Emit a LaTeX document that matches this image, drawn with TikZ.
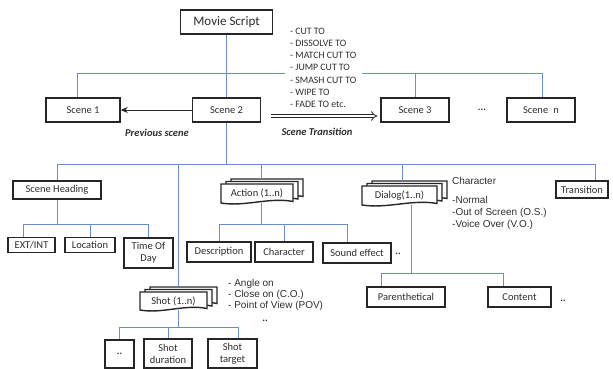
\documentclass[tikz,border=0pt]{standalone}
\usepackage{fontspec}
\setmainfont{Carlito}
\newfontfamily\arialf{Liberation Sans}
\usetikzlibrary{arrows.meta}
\definecolor{lineblue}{RGB}{105,142,200}
\definecolor{txt}{RGB}{45,45,45}
\newcommand\DocStack[6]{%
  \foreach \k in {2,1,0}{%
    \pgfmathsetmacro\ox{5*\k}\pgfmathsetmacro\oy{-2.5*\k}%
    \draw[docbox] ({#2+\ox},{#3+\oy}) -- ({#4+\ox},{#3+\oy}) -- ({#4+\ox},{#5+\oy-1.5})
      .. controls ({#4+\ox-0.33*(#4-#2)},{#5+\oy-6}) and ({#2+\ox+0.33*(#4-#2)},{#5+\oy+4}) .. ({#2+\ox},{#5+\oy}) -- cycle;
  }%
  \node[inner sep=0pt, text=txt, font=\fontsize{10.5}{12}\selectfont] (#1) at ({(#2+#4)/2},{(#3+#5)/2}) {#6};
  \coordinate (#1-t) at ({(#2+#4)/2},{#3-5});
  \coordinate (#1-b) at ({(#2+#4)/2},{#5});
}
\begin{document}
\begin{tikzpicture}[x=1pt,y=-1pt,
  box/.style={draw=black!85, line width=1.4pt, fill=white, inner sep=1pt, text=txt,
    font=\fontsize{10.5}{12}\selectfont, align=center},
  docbox/.style={draw=black!85, line width=1.4pt, fill=white},
  conn/.style={draw=lineblue, line width=0.9pt},
  bi/.style={inner sep=0pt, text=txt, font=\fontsize{10.5}{12}\selectfont\bfseries\itshape},
  dots/.style={inner sep=0pt, text=txt, font=\fontsize{10}{12}\selectfont\bfseries},
  arl/.style={inner sep=0pt, text=txt, align=left, anchor=north west, font=\arialf\fontsize{10}{12}\selectfont},
]
\useasboundingbox (0,0) rectangle (613,369);

% ---- top level
\node[box, minimum width=92pt, minimum height=24pt, font=\fontsize{13}{15}\selectfont] (ms) at (226.5,22) {Movie Script};
\node[box, minimum width=74pt, minimum height=24pt] (s1) at (83,110) {Scene 1};
\node[box, minimum width=68pt, minimum height=24pt] (s2) at (226.5,110) {Scene 2};
\node[box, minimum width=68pt, minimum height=24pt] (s3) at (415,110) {Scene 3};
\node[box, minimum width=68pt, minimum height=24pt] (sn) at (541,110) {Scene\enspace n};
\node[dots] (dotsS) at (482,110) {...};
\node[bi] (prev) at (157,133) {Previous scene};
\node[bi] (trans) at (317,132) {Scene Transition};
\node[inner xsep=5pt, inner ysep=0pt, anchor=north west, align=left, text=txt,
  font=\fontsize{9.8}{12.2}\selectfont] (cuts) at (285,27.7)
  {- CUT TO\\- DISSOLVE TO\\- MATCH CUT TO\\- JUMP CUT TO\\- SMASH CUT TO\\- WIPE TO\\- FADE TO etc.};

% ---- second level
\node[box, minimum width=88pt, minimum height=18pt] (sh) at (57,190) {Scene Heading};
\DocStack{act}{221}{184}{293}{203}{Action (1..n)}
\DocStack{dlg}{362}{186}{437}{205}{Dialog(1..n)}
\node[box, minimum width=52pt, minimum height=17pt] (tr) at (582,189.5) {Transition};
\node[anchor=west, inner sep=0pt, text=txt, font=\arialf\fontsize{10}{12}\selectfont] (chr) at (452,181) {Character};
\node[arl] (chrl) at (452,196.3) {-Normal\\-Out of Screen (O.S.)\\-Voice Over (V.O.)};

% ---- third level
\node[box, minimum width=47pt, minimum height=15pt] (ext) at (31.5,245) {EXT/INT};
\node[box, minimum width=50pt, minimum height=15pt] (loc) at (90,245) {Location};
\node[box, minimum width=49pt, minimum height=30pt] (tod) at (148.5,253) {Time Of\\Day};
\node[box, minimum width=64pt, minimum height=20pt] (desc) at (219,252) {Description};
\node[box, minimum width=58pt, minimum height=20pt] (char) at (284,252) {Character};
\node[box, minimum width=68pt, minimum height=20pt] (snd) at (357,253) {Sound effect};
\node[dots] (dotsA) at (398,254) {..};
\node[box, minimum width=78pt, minimum height=20pt] (par) at (406,297) {Parenthetical};
\node[box, minimum width=63pt, minimum height=20pt] (con) at (519.5,297) {Content};
\node[dots] (dotsD) at (563,301) {..};

% ---- shot
\DocStack{sht}{140}{292}{207}{310}{Shot (1..n)}
\node[arl, font=\arialf\fontsize{10}{11}\selectfont] (shl) at (228,279.3) {- Angle on\\- Close on (C.O.)\\- Point of View (POV)};
\node[dots] (dotsSh) at (265,321) {..};
\node[box, minimum width=29pt, minimum height=28pt, font=\fontsize{10}{12}\selectfont\bfseries] (dd) at (119.5,354) {..};
\node[box, minimum width=48pt, minimum height=29pt] (sd) at (168,353.5) {Shot\\duration};
\node[box, minimum width=49pt, minimum height=29pt] (st) at (232.5,353.5) {Shot\\target};

% ---- connectors
\coordinate (b1L) at (77,73);
\coordinate (b1R) at (542,73);
\draw[conn] (ms.south) -- (s2.north);
\draw[conn] (b1L) -- (b1L -| cuts.west);
\draw[conn] (cuts.east |- b1L) -- (b1R);
\draw[conn] (b1L) -- (b1L |- s1.north);
\draw[conn] (s3.north |- b1L) -- (s3.north);
\draw[conn] (b1R) -- (b1R |- sn.north);

\draw[-{Stealth[length=7pt,width=6pt]}, line width=1pt, black!85] (s2.west) -- (s1.east);
\draw[double=white, double distance=2.4pt, line width=0.8pt, black!85, -{Implies}]
  ([xshift=10pt,yshift=-6pt]s2.east) -- ([xshift=-3pt,yshift=-6pt]s3.west);

\coordinate (b2L) at (57,164);
\coordinate (b2R) at (595,164);
\draw[conn] (s2.south) -- (s2.south |- b2L);
\draw[conn] (b2L) -- (b2R);
\draw[conn] (b2L) -- (sh.north);
\draw[conn] (b2R) -- (b2R |- tr.north);
\coordinate (shtop) at ([xshift=4.5pt]sht-t);
\coordinate (acttop) at ([xshift=4pt]act-t);
\coordinate (dlgtop) at ([xshift=2.5pt]dlg-t);
\draw[conn] (shtop |- b2L) -- (shtop);
\draw[conn] (acttop |- b2L) -- (acttop);
\draw[conn] (dlgtop |- b2L) -- (dlgtop);

\coordinate (b3) at (0,224);
\coordinate (extdrop) at ([xshift=-8.5pt]ext.north);
\draw[conn] (sh.south) -- (sh.south |- b3);
\draw[conn] (extdrop |- b3) -- (tod.north |- b3);
\draw[conn] (extdrop |- b3) -- (extdrop);
\draw[conn] (loc.north |- b3) -- (loc.north);
\draw[conn] (tod.north |- b3) -- (tod.north);

\coordinate (actbot) at ([xshift=4pt]act-b);
\coordinate (snddrop) at ([xshift=-10pt]snd.north);
\draw[conn] (actbot) -- (actbot |- b3);
\draw[conn] (desc.north |- b3) -- (snddrop |- b3);
\draw[conn] (desc.north |- b3) -- (desc.north);
\draw[conn] (char.north |- b3) -- (char.north);
\draw[conn] (snddrop |- b3) -- (snddrop);

\coordinate (b5) at (0,273);
\coordinate (dlgbot) at ([xshift=11.5pt]dlg-b);
\coordinate (pardrop) at ([xshift=-25pt]par.north);
\coordinate (condrop) at ([xshift=-16.5pt]con.north);
\draw[conn] (dlgbot) -- (dlgbot |- b5);
\draw[conn] (pardrop |- b5) -- (condrop |- b5);
\draw[conn] (pardrop |- b5) -- (pardrop);
\draw[conn] (condrop |- b5) -- (condrop);

\coordinate (b6) at (0,327);
\coordinate (shbot) at ([xshift=4.5pt]sht-b);
\coordinate (stdrop) at ([xshift=5.5pt]st.north);
\draw[conn] (shbot) -- (shbot |- b6);
\draw[conn] (dd.north |- b6) -- (stdrop |- b6);
\draw[conn] (dd.north |- b6) -- (dd.north);
\draw[conn] (sd.north |- b6) -- (sd.north);
\draw[conn] (stdrop |- b6) -- (stdrop);
\end{tikzpicture}
\end{document}
